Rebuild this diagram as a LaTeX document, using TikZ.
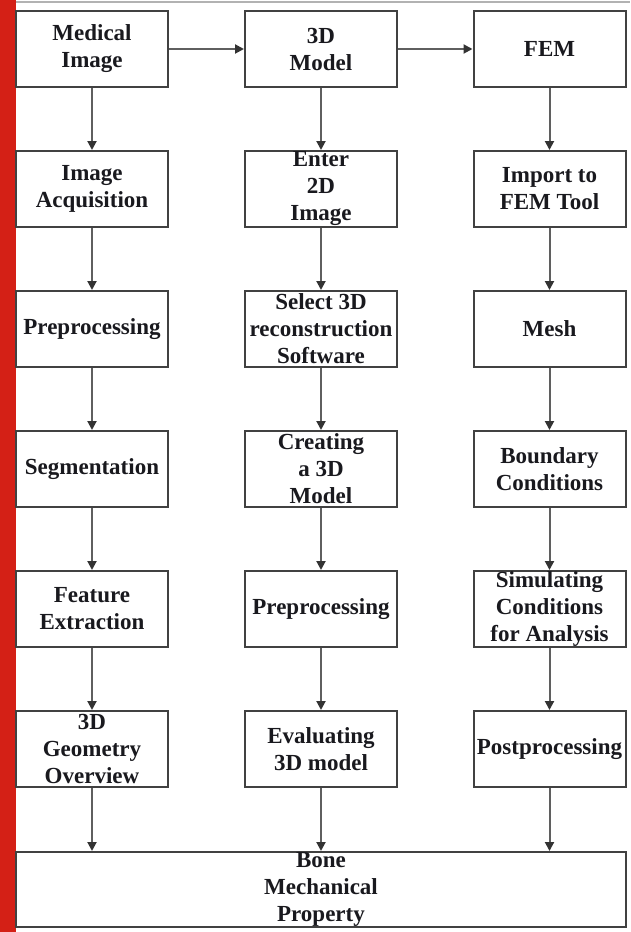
\documentclass[tikz,border=0pt]{standalone}
\usepackage{fontspec}
\setmainfont{Liberation Serif}
\usetikzlibrary{arrows.meta}
\definecolor{barred}{RGB}{212,32,22}
\definecolor{boxline}{RGB}{65,65,65}
\definecolor{arrline}{RGB}{95,95,95}
\definecolor{txt}{RGB}{25,25,30}
\tikzset{
  box/.style={draw=boxline, line width=2pt, minimum width=152pt, minimum height=76pt,
    inner xsep=1pt, inner ysep=-3pt, align=center, text=txt, font=\fontsize{23}{27}\selectfont\bfseries},
  wide/.style={box, minimum width=610pt, minimum height=75pt},
  arr/.style={draw=arrline, line width=2pt, -{Triangle[length=9pt,width=9pt,color=black!80]}}
}
\begin{document}
\begin{tikzpicture}[x=1pt,y=-1pt]
\useasboundingbox (0,0) rectangle (630,932);
\fill[white] (0,0) rectangle (630,932);
\fill[barred] (0,0) rectangle (16,932);
\draw[black!30, line width=2pt] (16,2) -- (630,2);
% column 1
\node[box] (a1) at (92,49) {Medical\\Image};
\node[box] (a2) at (92,189) {Image\\Acquisition};
\node[box] (a3) at (92,329) {Preprocessing};
\node[box] (a4) at (92,469) {Segmentation};
\node[box] (a5) at (92,609) {Feature\\Extraction};
\node[box] (a6) at (92,749) {3D\\Geometry\\Overview};
% column 2
\node[box] (b1) at (321,49) {3D\\Model};
\node[box] (b2) at (321,189) {Enter\\2D\\Image};
\node[box] (b3) at (321,329) {Select 3D\\reconstruction\\Software};
\node[box] (b4) at (321,469) {Creating\\a 3D\\Model};
\node[box] (b5) at (321,609) {Preprocessing};
\node[box] (b6) at (321,749) {Evaluating\\3D model};
% column 3
\node[box] (c1) at (549.5,49) {FEM};
\node[box] (c2) at (549.5,189) {Import to\\FEM Tool};
\node[box] (c3) at (549.5,329) {Mesh};
\node[box] (c4) at (549.5,469) {Boundary\\Conditions};
\node[box] (c5) at (549.5,609) {Simulating\\Conditions\\for Analysis};
\node[box] (c6) at (549.5,749) {Postprocessing};
% bottom
\node[wide] (z) at (321,889.5) {Bone\\Mechanical\\Property};
% arrows
\draw[arr] (a1) -- (b1);
\draw[arr] (b1) -- (c1);
\foreach \c in {a,b,c}{
  \draw[arr] (\c1) -- (\c2);
  \draw[arr] (\c2) -- (\c3);
  \draw[arr] (\c3) -- (\c4);
  \draw[arr] (\c4) -- (\c5);
  \draw[arr] (\c5) -- (\c6);
  \draw[arr] (\c6.south) -- (\c6.south |- z.north);
}
\end{tikzpicture}
\end{document}
